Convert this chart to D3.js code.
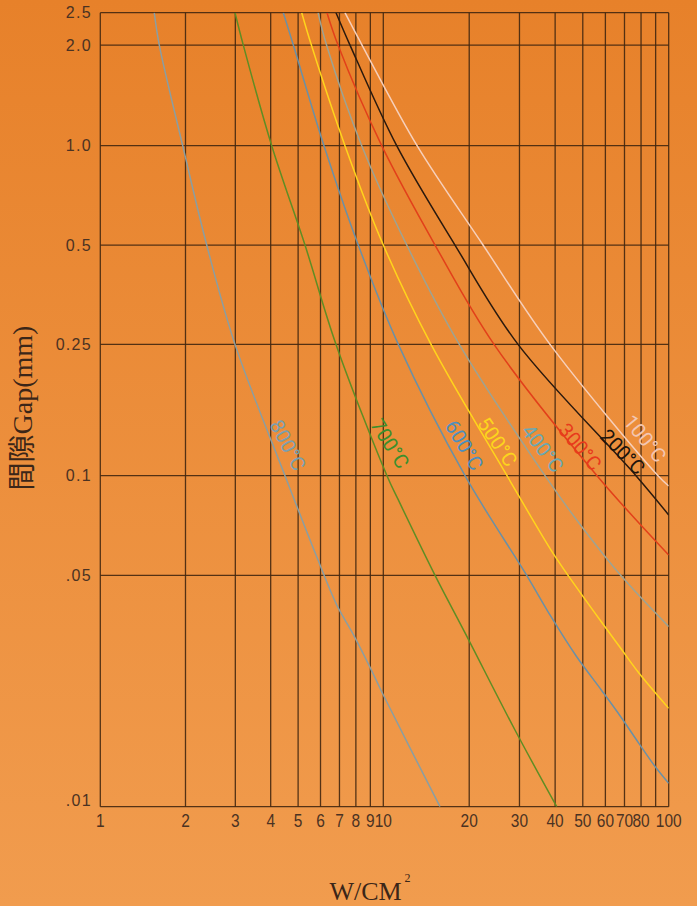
<!DOCTYPE html>
<html><head><meta charset="utf-8">
<script src="https://cdn.jsdelivr.net/npm/d3@7"></script>
<style>html,body{margin:0;padding:0;}body{width:697px;height:906px;overflow:hidden;}</style>
</head><body>
<svg id="chart" width="697" height="906"></svg>
<script>
// ---- data ----
const xTicks = [1,2,3,4,5,6,7,8,9,10,20,30,40,50,60,70,80,90,100];
const xTickLabels = ["1","2","3","4","5","6","7","8","9","10","20","30","40","50","60","70","80","","100"];
const yTicks = [2.5,2.0,1.0,0.5,0.25,0.1,0.05,0.01];
const yTickLabels = ["2.5","2.0","1.0","0.5","0.25","0.1",".05",".01"];
const temperatures = ["800°C","700°C","600°C","500°C","400°C","300°C","200°C","100°C"];

// points [W/cm², gap mm]
const s800 = [[1.551,2.5],[1.616,2.0],[1.955,1.0],[2.377,0.5],[2.992,0.25],[4.494,0.1],[5.846,0.0563],[6.845,0.0407],[7.796,0.0334],[8.951,0.0265],[10,0.02175],[15.8,0.01]];
const s700 = [[2.992,2.5],[3.201,2.0],[4.034,1.0],[5.288,0.5],[6.806,0.25],[10.3,0.1],[11.29,0.0845],[15.18,0.05],[19.38,0.0334],[28.93,0.01705],[40.52,0.01]];
const s600 = [[4.433,2.5],[4.809,2.0],[6.172,1.0],[8.157,0.5],[11.29,0.25],[19.33,0.1],[31.8,0.05],[38.7,0.0375],[47.6,0.02838],[58.05,0.02253],[67.9,0.0187],[78.5,0.01557],[89.75,0.0132],[100,0.01177]];
const s500 = [[5.149,2.5],[5.57,2.0],[7.32,1.0],[10,0.5],[14.7,0.25],[27.13,0.1],[38.7,0.0596],[44.4,0.05],[58.05,0.0362],[67.9,0.0301],[78.5,0.0254],[100,0.01983]];
const s400 = [[5.88,2.5],[6.30,2.0],[8.389,1.0],[12.08,0.5],[18.46,0.25],[36.86,0.1],[47.6,0.0735],[67.9,0.05],[100,0.035]];
const s300 = [[6.324,2.5],[6.918,2.0],[9.871,1.0],[15.18,0.5],[24.43,0.25],[56.08,0.1],[100,0.0576]];
const s200 = [[6.806,2.5],[7.627,2.0],[11.14,1.0],[17.83,0.5],[29.65,0.25],[76.8,0.1],[100,0.0761]];
const s100 = [[7.32,2.5],[8.41,2.0],[13.13,1.0],[22.36,0.5],[38.38,0.25],[91.74,0.1],[100,0.0931]];
const seriesData = [s800,s700,s600,s500,s400,s300,s200,s100];
// label anchors [W, gap]
const labelAt = [[4.6,0.1237],[10.55,0.125],[19.2,0.1237],[25.1,0.1266],[36.2,0.121],[48.9,0.1223],[69,0.1181],[82.6,0.1296]];

// ---- styles ----
const lineColors = ["#8a9ea2","#5f8d24","#6a90a6","#ffd41c","#9ea392","#e2401a","#2b1a0e","#f6cfba"];
const textColors = ["#7a9fb0","#3b8f2c","#4b8fbf","#fcd51c","#6aa8b2","#e83a1c","#1d140d","#f3c6b2"];
const labelAngles = [62,58,59,56,53,50,46,51];

const svg = d3.select("#chart");
const defs = svg.append("defs");
const grad = defs.append("linearGradient").attr("id","bg").attr("x1",0).attr("y1",0).attr("x2",0).attr("y2",1);
grad.append("stop").attr("offset","0%").attr("stop-color","#e7812a");
grad.append("stop").attr("offset","100%").attr("stop-color","#f19c4e");
svg.append("rect").attr("width",697).attr("height",906).attr("fill","url(#bg)");

const x = d3.scaleLog().domain([1,10,100]).range([100.3,383.3,668.7]);
const y = d3.scaleLog().domain([0.01,0.1,1,2.5]).range([806.7,475.7,145.7,12.7]);

defs.append("clipPath").attr("id","plot").append("rect")
  .attr("x",x(1)).attr("y",y(2.5)).attr("width",x(100)-x(1)).attr("height",y(0.01)-y(2.5));

const gridColor = "#43270f";
const g = svg.append("g");
g.selectAll("line.v").data(xTicks).join("line")
  .attr("x1",d=>x(d)).attr("x2",d=>x(d)).attr("y1",y(2.5)).attr("y2",y(0.01))
  .attr("stroke",gridColor).attr("stroke-width",1.3).attr("stroke-opacity",0.9);
g.selectAll("line.h").data(yTicks).join("line")
  .attr("y1",d=>y(d)).attr("y2",d=>y(d)).attr("x1",x(1)).attr("x2",x(100))
  .attr("stroke",gridColor).attr("stroke-width",1.3).attr("stroke-opacity",0.9);

// curves
const line = d3.line().x(d=>x(d[0])).y(d=>y(d[1])).curve(d3.curveCatmullRom.alpha(0.5));
const cg = svg.append("g").attr("clip-path","url(#plot)");
cg.selectAll("path").data(seriesData).join("path")
  .attr("d",line).attr("fill","none")
  .attr("stroke",(d,i)=>lineColors[i]).attr("stroke-width",1.5);

// curve labels
svg.append("g").selectAll("text").data(temperatures).join("text")
  .attr("transform",(d,i)=>`translate(${x(labelAt[i][0])},${y(labelAt[i][1])}) rotate(${labelAngles[i]})`)
  .attr("text-anchor","middle").attr("dominant-baseline","central")
  .attr("font-family","Roboto, 'Noto Sans', sans-serif").attr("font-size",20)
  .attr("fill",(d,i)=>textColors[i]).text(d=>d);

// y tick labels
const tickFont = "'Liberation Sans', Arial, sans-serif";
svg.append("g").selectAll("text").data(yTicks).join("text")
  .attr("x",92).attr("y",(d,i)=> i===yTicks.length-1 ? y(d)-6 : y(d))
  .attr("dy","0.35em").attr("text-anchor","end")
  .attr("font-family",tickFont).attr("font-size",16).attr("letter-spacing","1.3px")
  .attr("fill","#4b3222").text((d,i)=>yTickLabels[i]);

// x tick labels (condensed)
svg.append("g").selectAll("text").data(xTicks).join("text")
  .attr("transform",d=>`translate(${x(d)},827) scale(0.86,1)`).attr("text-anchor","middle")
  .attr("font-family",tickFont).attr("font-size",18)
  .attr("fill","#4b3222").text((d,i)=>xTickLabels[i]);

// axis titles
svg.append("text").attr("transform","translate(32,408) rotate(-90)")
  .attr("text-anchor","middle")
  .attr("font-family","'Liberation Serif', 'Noto Sans CJK TC', serif").attr("font-size",28)
  .attr("fill","#3b2618")
  .text("間隙Gap(mm)");
const xt = svg.append("text").attr("x",370).attr("y",900).attr("text-anchor","middle")
  .attr("font-family","'Liberation Serif', serif").attr("font-size",26).attr("fill","#3b2618");
xt.append("tspan").text("W/CM");
xt.append("tspan").attr("font-size",12).attr("dy",-18).attr("dx",3).text("2");
</script>
</body></html>
